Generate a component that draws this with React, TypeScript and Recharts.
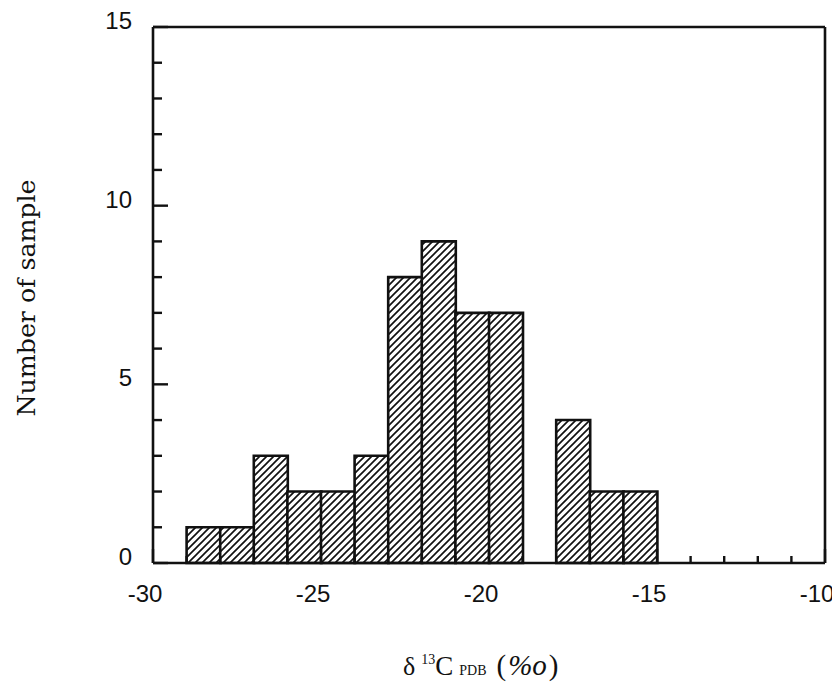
import React from 'react';
import { ComposedChart, Bar, XAxis, YAxis, Label } from 'recharts';

// Histogram bins (centre of each 1‰ bin) and number of samples in each
const binCenters = [-28.5, -27.5, -26.5, -25.5, -24.5, -23.5, -22.5, -21.5, -20.5, -19.5, -18.5, -17.5, -16.5, -15.5];
const counts = [1, 1, 3, 2, 2, 3, 8, 9, 7, 7, 0, 4, 2, 2];

const xTicks = [-30, -29, -28, -27, -26, -25, -24, -23, -22, -21, -20, -19, -18, -17, -16, -15, -14, -13, -12, -11, -10];
const xMajor = [-30, -25, -20, -15, -10];
const yTicks = [0, 1, 2, 3, 4, 5, 6, 7, 8, 9, 10, 11, 12, 13, 14, 15];
const yMajor = [0, 5, 10, 15];

const data = binCenters.map((x, i) => ({ x, n: counts[i] }));

const INK = '#111';
const SANS = "'Liberation Sans', Arial, Helvetica, sans-serif";
const SERIF = "'Liberation Serif', 'Times New Roman', serif";

const BottomTick = (props: any) => {
  const { x, y, payload } = props;
  const v = payload.value;
  const major = xMajor.includes(v);
  return (
    <g>
      <line x1={x} y1={y} x2={x} y2={y - (major ? 14 : 7)} stroke={INK} strokeWidth={2.4} />
      {major && (
        <text x={x - 8} y={y + 39} textAnchor="middle" fontFamily={SANS} fontSize={24} fill={INK}>
          {String(v)}
        </text>
      )}
    </g>
  );
};

const TopTick = (props: any) => {
  const { x, y, payload } = props;
  const major = xMajor.includes(payload.value);
  return <line x1={x} y1={y} x2={x} y2={y + (major ? 14 : 7)} stroke={INK} strokeWidth={2.4} />;
};

const LeftTick = (props: any) => {
  const { x, y, payload } = props;
  const v = payload.value;
  const major = yMajor.includes(v);
  return (
    <g>
      <line x1={x} y1={y} x2={x + (major ? 15 : 9)} y2={y} stroke={INK} strokeWidth={2.4} />
      {major && (
        <text x={x - 21} y={y + 2} textAnchor="end" fontFamily={SANS} fontSize={24} fill={INK}>
          {String(v)}
        </text>
      )}
    </g>
  );
};

const RightTick = (props: any) => {
  const { x, y, payload } = props;
  const major = yMajor.includes(payload.value);
  return <line x1={x} y1={y} x2={x - (major ? 15 : 9)} y2={y} stroke={INK} strokeWidth={2.4} />;
};

const XTitle = (props: any) => {
  const vb = props.viewBox;
  const cx = vb.x + vb.width / 2;
  const base = vb.y + 112;
  return (
    <text x={cx - 86} y={base} fill={INK} fontFamily={SERIF}>
      <tspan fontSize={26}>δ</tspan>
      <tspan fontSize={14} dx={6} dy={-11}>13</tspan>
      <tspan fontSize={27} dy={11}>C</tspan>
      <tspan fontSize={14} dx={6}>PDB</tspan>
      <tspan fontSize={29} dx={10}>(</tspan>
      <tspan fontSize={29} fontStyle="italic" dx={2}>%o</tspan>
      <tspan fontSize={29} dx={2}>)</tspan>
    </text>
  );
};

const YTitle = (props: any) => {
  const vb = props.viewBox;
  const cx = vb.x - 66;
  const cy = vb.y + vb.height / 2 + 3;
  return (
    <text
      x={cx}
      y={cy}
      transform={`rotate(-90 ${cx} ${cy})`}
      textAnchor="middle"
      dominantBaseline="central"
      fontFamily="'DejaVu Serif', serif"
      fontSize={24}
      textLength={237}
      lengthAdjust="spacingAndGlyphs"
      fill={INK}
    >
      Number of sample
    </text>
  );
};

export default function App() {
  return (
    <div style={{ width: 832, height: 683, background: '#fff' }}>
      <ComposedChart
        width={832}
        height={683}
        data={data}
        margin={{ top: 9, right: 5, bottom: 68, left: 85 }}
        barCategoryGap={0}
        barGap={0}
      >
        <defs>
          <pattern id="hatch" patternUnits="userSpaceOnUse" width="7" height="7">
            <rect width="7" height="7" fill="#fff" />
            <path d="M-1,1 l2,-2 M0,7 l7,-7 M6,8 l2,-2" stroke={INK} strokeWidth={1.7} />
          </pattern>
        </defs>
        <XAxis
          xAxisId="b"
          dataKey="x"
          type="number"
          domain={[-30, -10]}
          ticks={xTicks}
          interval={0}
          height={60}
          tickSize={0}
          tickMargin={0}
          tickLine={false}
          axisLine={{ stroke: INK, strokeWidth: 2.6 }}
          tick={<BottomTick />}
        >
          <Label content={<XTitle />} />
        </XAxis>
        <XAxis
          xAxisId="t"
          orientation="top"
          type="number"
          domain={[-30, -10]}
          ticks={xTicks}
          interval={0}
          height={10}
          tickSize={0}
          tickMargin={0}
          tickLine={false}
          axisLine={{ stroke: INK, strokeWidth: 2.6 }}
          tick={<TopTick />}
        />
        <YAxis
          yAxisId="l"
          type="number"
          domain={[0, 15]}
          ticks={yTicks}
          interval={0}
          width={60}
          tickSize={0}
          tickMargin={0}
          tickLine={false}
          axisLine={{ stroke: INK, strokeWidth: 2.6 }}
          tick={<LeftTick />}
        >
          <Label content={<YTitle />} />
        </YAxis>
        <YAxis
          yAxisId="r"
          orientation="right"
          type="number"
          domain={[0, 15]}
          ticks={yTicks}
          interval={0}
          width={10}
          tickSize={0}
          tickMargin={0}
          tickLine={false}
          axisLine={{ stroke: INK, strokeWidth: 2.6 }}
          tick={<RightTick />}
        />
        <Bar
          dataKey="n"
          xAxisId="b"
          yAxisId="l"
          fill="url(#hatch)"
          stroke={INK}
          strokeWidth={2.6}
          isAnimationActive={false}
        />
      </ComposedChart>
    </div>
  );
}
